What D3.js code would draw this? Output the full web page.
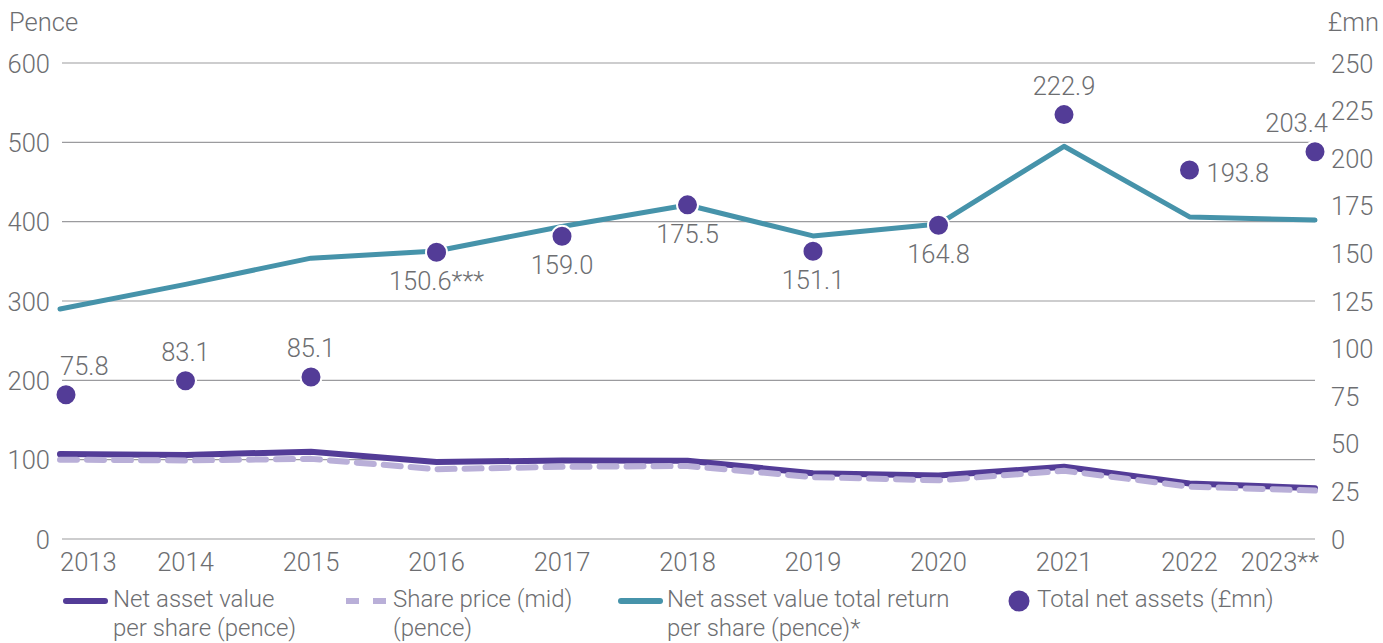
<!DOCTYPE html>
<html>
<head>
<meta charset="utf-8">
<script src="https://cdn.jsdelivr.net/npm/d3@7"></script>
<style>
  body { margin: 0; background: #fff; }
  text { font-family: Roboto, "Open Sans", sans-serif; font-weight: 300; fill: #6d6e71; }
</style>
</head>
<body>
<svg id="chart" width="1383" height="643"></svg>
<script>
// data
var years = ["2013", "2014", "2015", "2016", "2017", "2018", "2019", "2020", "2021", "2022", "2023"]
var yearLabels = ["2013", "2014", "2015", "2016", "2017", "2018", "2019", "2020", "2021", "2022", "2023**"]
var navPerShare = [107, 106, 110, 97, 99, 98.5, 83, 80, 91, 70, 64]
var sharePrice = [100, 99, 101, 88, 91, 92, 78, 74, 86, 66, 61]
var navTotalReturn = [290, 321, 354, 363, 394, 421, 382, 397, 495, 406, 402]
var totalNetAssets = [75.8, 83.1, 85.1, 150.6, 159.0, 175.5, 151.1, 164.8, 222.9, 193.8, 203.4]
var assetLabels = ["75.8", "83.1", "85.1", "150.6***", "159.0", "175.5", "151.1", "164.8", "222.9", "193.8", "203.4"]
var leftTicks = [0, 100, 200, 300, 400, 500, 600]
var rightTicks = [0, 25, 50, 75, 100, 125, 150, 175, 200, 225, 250]
var legendNames = [
  ["Net asset value", "per share (pence)"],
  ["Share price (mid)", "(pence)"],
  ["Net asset value total return", "per share (pence)*"],
  ["Total net assets (£mn)"]
]

// where each asset label sits relative to its dot
var labelSide = ["aboveRight", "above", "above", "below", "below", "below", "below", "below", "above", "right", "aboveLeft"]

var purple = "#533c97", lilac = "#b9afd8", teal = "#4693aa", grid = "#9b9b9e"
var fs = 25.5

var svg = d3.select("#chart")

var x = d3.scalePoint().domain(years).range([60, 1315])
var yL = d3.scaleLinear().domain([0, 600]).range([539, 63])
var yR = d3.scaleLinear().domain([0, 250]).range([539, 63])

// gridlines
svg.append("g")
  .selectAll("line")
  .data(leftTicks)
  .enter()
  .append("line")
    .attr("x1", 62)
    .attr("x2", 1315)
    .attr("y1", function(d) { return yL(d) })
    .attr("y2", function(d) { return yL(d) })
    .attr("stroke", grid)
    .attr("stroke-width", 1.2)

// left axis
var axL = svg.append("g")
  .attr("transform", "translate(50,0)")
  .call(d3.axisLeft(yL).tickValues(leftTicks).tickSize(0).tickPadding(0))
axL.select(".domain").remove()
axL.selectAll("text").attr("font-size", fs).attr("fill", null).attr("dy", "0.36em")

// right axis
var axR = svg.append("g")
  .attr("transform", "translate(1331,0)")
  .call(d3.axisRight(yR).tickValues(rightTicks).tickSize(0).tickPadding(0))
axR.select(".domain").remove()
axR.selectAll("text").attr("font-size", fs).attr("fill", null).attr("dy", "0.36em")

svg.append("text").attr("x", 9).attr("y", 31).attr("font-size", fs).text("Pence")
svg.append("text").attr("x", 1379).attr("y", 31).attr("font-size", fs)
  .attr("text-anchor", "end").text("£mn")

// x labels
svg.append("g")
  .selectAll("text")
  .data(years)
  .enter()
  .append("text")
    .attr("x", function(d, i) { return i == years.length - 1 ? x(d) + 4 : x(d) })
    .attr("y", 571)
    .attr("font-size", fs)
    .attr("text-anchor", function(d, i) { return i == 0 ? "start" : i == years.length - 1 ? "end" : "middle" })
    .text(function(d, i) { return yearLabels[i] })

// lines
var lineL = function(vals) {
  return d3.line()
    .x(function(d, i) { return x(years[i]) })
    .y(function(d) { return yL(d) })(vals)
}

svg.append("path")
  .attr("d", lineL(navTotalReturn))
  .attr("fill", "none")
  .attr("stroke", teal)
  .attr("stroke-width", 5)
  .attr("stroke-linejoin", "round")
  .attr("stroke-linecap", "round")

svg.append("path")
  .attr("d", lineL(navPerShare))
  .attr("fill", "none")
  .attr("stroke", purple)
  .attr("stroke-width", 6)
  .attr("stroke-linejoin", "round")
  .attr("stroke-linecap", "round")

svg.append("path")
  .attr("d", lineL(sharePrice))
  .attr("fill", "none")
  .attr("stroke", lilac)
  .attr("stroke-width", 6)
  .attr("stroke-dasharray", "17,10")
  .attr("stroke-linejoin", "round")
  .attr("stroke-linecap", "round")

// total net assets dots
svg.append("g")
  .selectAll("circle")
  .data(totalNetAssets)
  .enter()
  .append("circle")
    .attr("cx", function(d, i) { return x(years[i]) + (i == 0 ? 6 : 0) })
    .attr("cy", function(d) { return yR(d) })
    .attr("r", 10.5)
    .attr("fill", purple)
    .attr("stroke", "#fff")
    .attr("stroke-width", 2)

var lblX = function(d, i) {
  var cx = x(years[i])
  var s = labelSide[i]
  if (s == "right") return cx + 17
  if (s == "aboveLeft") return cx + 13
  return cx
}
var lblY = function(d, i) {
  var cy = yR(d)
  var s = labelSide[i]
  if (s == "below") return cy + 38
  if (s == "right") return cy + 12
  return cy - 20
}
svg.append("g")
  .selectAll("text")
  .data(totalNetAssets)
  .enter()
  .append("text")
    .attr("x", lblX)
    .attr("y", lblY)
    .attr("font-size", fs)
    .attr("text-anchor", function(d, i) {
      var s = labelSide[i]
      return s == "aboveRight" || s == "right" ? "start" : s == "aboveLeft" ? "end" : "middle"
    })
    .text(function(d, i) { return assetLabels[i] })

// legend
var legX = [113, 393, 667, 1037]
var leg = svg.append("g")
leg.append("line").attr("x1", 66).attr("x2", 105).attr("y1", 601).attr("y2", 601)
  .attr("stroke", purple).attr("stroke-width", 6).attr("stroke-linecap", "round")
leg.append("line").attr("x1", 346).attr("x2", 386).attr("y1", 601).attr("y2", 601)
  .attr("stroke", lilac).attr("stroke-width", 6).attr("stroke-dasharray", "13,14")
leg.append("line").attr("x1", 621).attr("x2", 660).attr("y1", 601).attr("y2", 601)
  .attr("stroke", teal).attr("stroke-width", 6).attr("stroke-linecap", "round")
leg.append("circle").attr("cx", 1019).attr("cy", 601).attr("r", 10.5).attr("fill", purple)

leg.selectAll("text")
  .data(legendNames)
  .enter()
  .append("text")
    .attr("font-size", 24)
    .each(function(d, i) {
      var t = d3.select(this)
      d.forEach(function(line, j) {
        t.append("tspan")
          .attr("x", legX[i])
          .attr("y", 607 + j * 28.5)
          .text(line)
      })
    })
</script>
</body>
</html>
